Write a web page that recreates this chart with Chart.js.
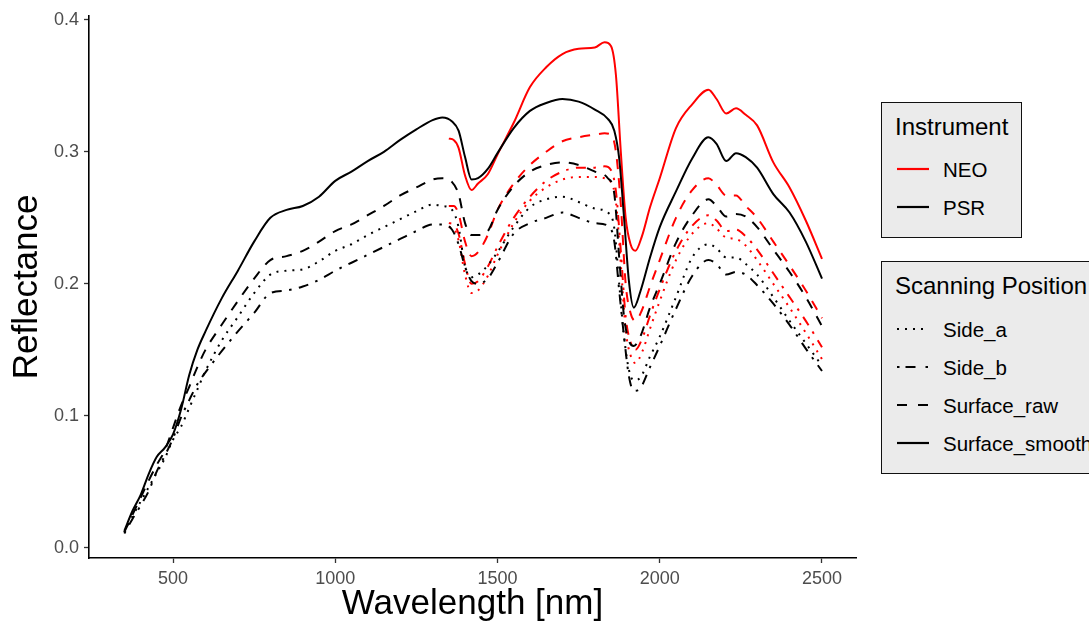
<!DOCTYPE html>
<html>
<head>
<meta charset="utf-8">
<script src="https://cdn.jsdelivr.net/npm/chart.js@4.4.1/dist/chart.umd.min.js"></script>
<style>
  html, body { margin: 0; padding: 0; background: #fff; }
  #wrap { position: relative; width: 1089px; height: 625px; overflow: hidden; background: #fff; }
  #c { position: absolute; left: 0; top: 0; }
  .box { position: absolute; box-sizing: border-box; background: #ebebeb; border: 1.5px solid #111; }
  .txt { position: absolute; white-space: nowrap; font-family: 'Liberation Sans', Arial, Helvetica, sans-serif; color: #000; }
</style>
</head>
<body>
<div id="wrap">
  <canvas id="c" width="1089" height="625"></canvas>
</div>
<script>
// ---------------- data ----------------
const xTickVals = [500, 1000, 1500, 2000, 2500];
const yTickVals = [0.0, 0.1, 0.2, 0.3, 0.4];

const psrWl = [350, 375, 400, 425, 450, 475, 500, 525, 550, 575, 600, 650, 700, 750, 800, 850, 900, 950, 1000, 1050,
  1100, 1150, 1200, 1250, 1300, 1330, 1360, 1380, 1400, 1420, 1440, 1470, 1500, 1550, 1600, 1650, 1700, 1750, 1800, 1840,
  1860, 1875, 1890, 1905, 1920, 1940, 1970, 2000, 2050, 2100, 2150, 2175, 2205, 2235, 2265, 2300, 2350, 2400, 2450, 2500];

const psrSurfaceSmooth = [0.013, 0.028, 0.040, 0.056, 0.069, 0.076, 0.086, 0.105, 0.131, 0.150, 0.164, 0.189, 0.210, 0.232, 0.250, 0.256, 0.259, 0.266, 0.278, 0.285,
  0.293, 0.300, 0.309, 0.317, 0.324, 0.326, 0.323, 0.316, 0.296, 0.279, 0.280, 0.287, 0.299, 0.318, 0.331, 0.337, 0.340, 0.338, 0.332, 0.325,
  0.316, 0.295, 0.250, 0.202, 0.182, 0.194, 0.220, 0.243, 0.270, 0.295, 0.311, 0.306, 0.293, 0.299, 0.296, 0.288, 0.268, 0.254, 0.232, 0.204];

const psrSurfaceRaw = [0.012, 0.025, 0.038, 0.051, 0.063, 0.074, 0.091, 0.108, 0.122, 0.137, 0.150, 0.169, 0.187, 0.204, 0.218, 0.221, 0.225, 0.232, 0.240, 0.245,
  0.252, 0.259, 0.267, 0.273, 0.279, 0.280, 0.277, 0.268, 0.246, 0.237, 0.237, 0.240, 0.256, 0.274, 0.285, 0.290, 0.292, 0.290, 0.285, 0.280,
  0.268, 0.220, 0.175, 0.157, 0.153, 0.160, 0.182, 0.200, 0.231, 0.252, 0.264, 0.259, 0.251, 0.253, 0.251, 0.243, 0.226, 0.209, 0.190, 0.168];

const psrSideA = [0.012, 0.024, 0.035, 0.046, 0.057, 0.068, 0.082, 0.092, 0.106, 0.120, 0.134, 0.157, 0.175, 0.193, 0.207, 0.210, 0.211, 0.217, 0.225, 0.230,
  0.237, 0.243, 0.249, 0.255, 0.260, 0.259, 0.256, 0.243, 0.213, 0.205, 0.207, 0.214, 0.224, 0.243, 0.258, 0.264, 0.266, 0.262, 0.257, 0.254,
  0.242, 0.200, 0.160, 0.135, 0.127, 0.129, 0.145, 0.160, 0.190, 0.220, 0.230, 0.227, 0.220, 0.220, 0.215, 0.207, 0.190, 0.172, 0.155, 0.138];

const psrSideB = [0.011, 0.022, 0.032, 0.043, 0.058, 0.070, 0.083, 0.099, 0.112, 0.124, 0.133, 0.149, 0.164, 0.178, 0.193, 0.195, 0.198, 0.203, 0.210, 0.216,
  0.222, 0.228, 0.234, 0.240, 0.245, 0.245, 0.241, 0.230, 0.213, 0.202, 0.200, 0.204, 0.216, 0.238, 0.246, 0.250, 0.254, 0.250, 0.246, 0.244,
  0.232, 0.195, 0.160, 0.130, 0.119, 0.121, 0.137, 0.153, 0.181, 0.206, 0.218, 0.215, 0.207, 0.209, 0.207, 0.199, 0.185, 0.169, 0.151, 0.134];

const neoWl = [1350, 1365, 1380, 1400, 1420, 1440, 1470, 1500, 1550, 1600, 1650, 1700, 1750, 1800, 1830, 1850, 1865, 1880,
  1895, 1910, 1925, 1945, 1970, 2000, 2050, 2100, 2150, 2175, 2205, 2235, 2265, 2300, 2350, 2400, 2450, 2500];

const neoSurfaceSmooth = [0.310, 0.309, 0.303, 0.282, 0.271, 0.276, 0.283, 0.298, 0.322, 0.349, 0.364, 0.374, 0.378, 0.379, 0.383, 0.380, 0.358, 0.300,
  0.250, 0.230, 0.225, 0.236, 0.258, 0.280, 0.318, 0.336, 0.347, 0.340, 0.329, 0.333, 0.328, 0.320, 0.292, 0.273, 0.248, 0.219];

const neoSurfaceRaw = [0.259, 0.259, 0.253, 0.232, 0.221, 0.224, 0.237, 0.256, 0.276, 0.290, 0.300, 0.308, 0.311, 0.313, 0.314, 0.313, 0.300, 0.260,
  0.200, 0.178, 0.172, 0.180, 0.198, 0.218, 0.250, 0.271, 0.280, 0.275, 0.267, 0.267, 0.259, 0.250, 0.232, 0.214, 0.195, 0.174];

const neoSideB = [0.246, 0.245, 0.238, 0.215, 0.200, 0.202, 0.213, 0.228, 0.250, 0.266, 0.278, 0.285, 0.288, 0.288, 0.289, 0.286, 0.270, 0.225,
  0.175, 0.156, 0.150, 0.158, 0.176, 0.196, 0.225, 0.244, 0.252, 0.248, 0.240, 0.241, 0.236, 0.226, 0.208, 0.190, 0.172, 0.152];

const neoSideA = [0.243, 0.242, 0.233, 0.207, 0.193, 0.195, 0.206, 0.222, 0.246, 0.263, 0.273, 0.279, 0.281, 0.281, 0.280, 0.277, 0.262, 0.215,
  0.165, 0.146, 0.140, 0.148, 0.166, 0.187, 0.218, 0.238, 0.246, 0.242, 0.235, 0.234, 0.229, 0.218, 0.200, 0.182, 0.163, 0.143];

const instruments = ['NEO', 'PSR'];
const positions = ['Side_a', 'Side_b', 'Surface_raw', 'Surface_smooth'];

// ---------------- styles ----------------
const instColor = { NEO: '#ff0000', PSR: '#000000' };
const posDash = { Side_a: [2, 6], Side_b: [2.5, 7.5, 10, 7.5], Surface_raw: [10, 9], Surface_smooth: [] };
const FONT = "'Liberation Sans', Arial, Helvetica, sans-serif";

function pts(wl, vals) { return wl.map((w, i) => ({ x: w, y: vals[i] })); }

const series = [
  ['PSR', 'Surface_smooth', psrWl, psrSurfaceSmooth],
  ['PSR', 'Surface_raw', psrWl, psrSurfaceRaw],
  ['PSR', 'Side_a', psrWl, psrSideA],
  ['PSR', 'Side_b', psrWl, psrSideB],
  ['NEO', 'Surface_smooth', neoWl, neoSurfaceSmooth],
  ['NEO', 'Surface_raw', neoWl, neoSurfaceRaw],
  ['NEO', 'Side_a', neoWl, neoSideA],
  ['NEO', 'Side_b', neoWl, neoSideB],
];

const datasets = series.map(([inst, pos, wl, vals]) => ({
  label: inst + ' ' + pos,
  data: pts(wl, vals),
  borderColor: instColor[inst],
  borderWidth: 2,
  borderDash: posDash[pos],
  borderCapStyle: 'butt',
  pointRadius: 0,
  fill: false,
  tension: 0.4,
  cubicInterpolationMode: 'monotone'
}));

new Chart(document.getElementById('c'), {
  type: 'line',
  data: { datasets },
  options: {
    responsive: false,
    animation: false,
    layout: { padding: { left: 0, right: 233, top: 15, bottom: 0 } },
    plugins: { legend: { display: false }, tooltip: { enabled: false } },
    scales: {
      x: {
        type: 'linear',
        min: 241.1,
        max: 2604.8,
        afterFit(scale) { scale.height = 67; },
        afterBuildTicks(scale) { scale.ticks = xTickVals.map(v => ({ value: v })); },
        grid: { display: true, drawOnChartArea: false, drawTicks: true, tickLength: 5, tickColor: '#333', tickWidth: 1.3 },
        border: { display: true, color: '#000', width: 1.6 },
        ticks: { color: '#4d4d4d', font: { family: FONT, size: 18 }, padding: 5, maxRotation: 0, autoSkip: false,
                 callback: v => String(v) },
        title: { display: true, text: 'Wavelength [nm]', color: '#000', font: { family: FONT, size: 35 }, padding: { top: 0, bottom: 0 } }
      },
      y: {
        type: 'linear',
        min: -0.0076,
        max: 0.403,
        afterFit(scale) { scale.width = 89; },
        afterBuildTicks(scale) { scale.ticks = yTickVals.map(v => ({ value: v })); },
        grid: { display: true, drawOnChartArea: false, drawTicks: true, tickLength: 5, tickColor: '#333', tickWidth: 1.3 },
        border: { display: true, color: '#000', width: 1.6 },
        ticks: { color: '#4d4d4d', font: { family: FONT, size: 18 }, padding: 5, autoSkip: false,
                 callback: v => Number(v).toFixed(1) },
        title: { display: true, text: 'Reflectance', color: '#000', font: { family: FONT, size: 35 }, padding: { top: 6, bottom: 0 } }
      }
    }
  }
});

// ---------------- legend (HTML) ----------------
const wrap = document.getElementById('wrap');
function el(tag, cls, css, text) {
  const e = document.createElement(tag);
  if (cls) e.className = cls;
  Object.assign(e.style, css);
  if (text !== undefined) e.textContent = text;
  wrap.appendChild(e);
  return e;
}
function keyLine(x, y, color, dash) {
  const ns = 'http://www.w3.org/2000/svg';
  const svg = document.createElementNS(ns, 'svg');
  svg.setAttribute('width', '34'); svg.setAttribute('height', '8');
  svg.style.position = 'absolute'; svg.style.left = x + 'px'; svg.style.top = (y - 4) + 'px';
  const ln = document.createElementNS(ns, 'line');
  ln.setAttribute('x1', '1'); ln.setAttribute('x2', '33');
  ln.setAttribute('y1', '4'); ln.setAttribute('y2', '4');
  ln.setAttribute('stroke', color); ln.setAttribute('stroke-width', '2.2');
  if (dash.length) ln.setAttribute('stroke-dasharray', dash.join(' '));
  svg.appendChild(ln);
  wrap.appendChild(svg);
}

el('div', 'box', { left: '881px', top: '102px', width: '141px', height: '136px' });
el('div', 'txt', { left: '895px', top: '115px', fontSize: '24px', lineHeight: '24px' }, 'Instrument');
const instY = [168.5, 206.7];
instruments.forEach((n, i) => {
  keyLine(896, instY[i], instColor[n], []);
  el('div', 'txt', { left: '943px', top: (instY[i] - 9) + 'px', fontSize: '20.5px', lineHeight: '20.5px' }, n);
});

el('div', 'box', { left: '881px', top: '261px', width: '240px', height: '213px' });
el('div', 'txt', { left: '895px', top: '274px', fontSize: '24px', lineHeight: '24px' }, 'Scanning Position');
const posY = [329.3, 366.7, 405, 443.3];
const legendDash = { Side_a: [2, 6], Side_b: [2.5, 6, 10, 10], Surface_raw: [10, 11], Surface_smooth: [] };
positions.forEach((p, i) => {
  keyLine(896, posY[i], '#000', legendDash[p]);
  el('div', 'txt', { left: '943px', top: (posY[i] - 9) + 'px', fontSize: '20.5px', lineHeight: '20.5px' }, p);
});
</script>
</body>
</html>
